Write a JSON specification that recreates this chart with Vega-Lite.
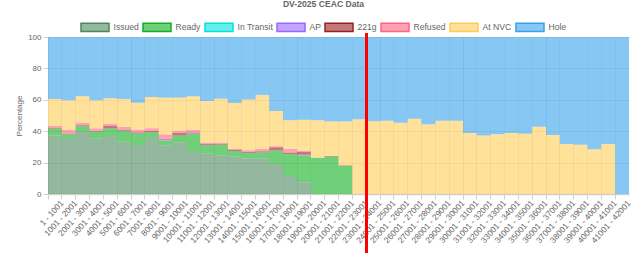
{
  "$schema": "https://vega.github.io/schema/vega-lite/v6.json",
  "width": 581,
  "height": 157,
  "autosize": "none",
  "padding": {"left": 48, "top": 37, "right": 11, "bottom": 59},
  "background": "white",
  "title": {
    "text": "DV-2025 CEAC Data",
    "font": "Liberation Sans",
    "fontSize": 8.6,
    "fontWeight": "bold",
    "color": "#666",
    "anchor": "middle",
    "offset": 3,
    "dx": -15
  },
  "config": {
    "view": {"stroke": null},
    "font": "Liberation Sans",
    "axisX": {
      "labelAngle": -48,
      "labelAlign": "right",
      "labelBaseline": "middle",
      "labelFont": "Liberation Sans",
      "labelFontSize": 8.4,
      "labelColor": "#666",
      "labelOverlap": false,
      "labelPadding": 2,
      "bandPosition": 0,
      "labelOffset": 6.9,
      "grid": true,
      "gridColor": "#000",
      "gridOpacity": 0.1,
      "tickColor": "#d0d0d0",
      "tickSize": 5,
      "domainColor": "#d0d0d0",
      "domainWidth": 1.5
    },
    "axisY": {
      "labelOverlap": false,
      "labelFont": "Liberation Sans",
      "labelFontSize": 8,
      "labelColor": "#666",
      "labelPadding": 2,
      "titleFont": "Liberation Sans",
      "titleFontSize": 8,
      "titleFontWeight": "normal",
      "titleColor": "#666",
      "titlePadding": 4,
      "grid": true,
      "gridColor": "#000",
      "gridOpacity": 0.1,
      "tickColor": "#d0d0d0",
      "tickSize": 5,
      "domainColor": "#e0e0e0"
    }
  },
  "data": {
    "values": [
      {"r": "1 - 1001", "Issued": 37.3, "Ready": 4.3, "221g": 0.4, "Refused": 1.3, "At NVC": 17.2, "Hole": 39.5},
      {"r": "1001 - 2001", "Issued": 35.0, "Ready": 3.0, "221g": 0.5, "Refused": 2.3, "At NVC": 18.9, "Hole": 40.3},
      {"r": "2001 - 3001", "Issued": 39.5, "Ready": 3.6, "221g": 0.7, "Refused": 1.6, "At NVC": 16.8, "Hole": 37.8},
      {"r": "3001 - 4001", "Issued": 35.5, "Ready": 4.2, "221g": 0.5, "Refused": 1.6, "At NVC": 17.9, "Hole": 40.3},
      {"r": "4001 - 5001", "Issued": 36.9, "Ready": 4.9, "221g": 1.5, "Refused": 1.5, "At NVC": 16.2, "Hole": 39.0},
      {"r": "5001 - 6001", "Issued": 33.3, "Ready": 7.0, "221g": 0.7, "Refused": 1.7, "At NVC": 17.8, "Hole": 39.5},
      {"r": "6001 - 7001", "Issued": 31.2, "Ready": 7.4, "221g": 0.7, "Refused": 1.7, "At NVC": 17.2, "Hole": 41.8},
      {"r": "7001 - 8001", "Issued": 35.7, "Ready": 3.6, "221g": 0.8, "Refused": 1.8, "At NVC": 19.9, "Hole": 38.2},
      {"r": "8001 - 9001", "Issued": 31.0, "Ready": 3.2, "AP": 0.4, "221g": 0.5, "Refused": 2.9, "At NVC": 23.4, "Hole": 38.6},
      {"r": "9001 - 10001", "Issued": 32.9, "Ready": 4.3, "221g": 1.8, "Refused": 1.1, "At NVC": 21.3, "Hole": 38.6},
      {"r": "10001 - 11001", "Issued": 27.4, "Ready": 10.8, "AP": 0.3, "221g": 0.7, "Refused": 1.6, "At NVC": 21.4, "Hole": 37.8},
      {"r": "11001 - 12001", "Issued": 25.9, "Ready": 5.1, "221g": 0.8, "Refused": 0.9, "At NVC": 26.5, "Hole": 40.8},
      {"r": "12001 - 13001", "Issued": 24.6, "Ready": 6.8, "221g": 0.5, "Refused": 0.8, "At NVC": 28.0, "Hole": 39.3},
      {"r": "13001 - 14001", "Issued": 23.8, "Ready": 3.6, "221g": 0.8, "Refused": 0.7, "At NVC": 29.1, "Hole": 42.0},
      {"r": "14001 - 15001", "Issued": 22.7, "Ready": 3.4, "221g": 0.6, "Refused": 1.2, "At NVC": 32.3, "Hole": 39.8},
      {"r": "15001 - 16001", "Issued": 22.7, "Ready": 3.8, "221g": 0.7, "Refused": 1.5, "At NVC": 34.4, "Hole": 36.9},
      {"r": "16001 - 17001", "Issued": 19.1, "Ready": 8.7, "221g": 2.0, "Refused": 0.6, "At NVC": 22.5, "Hole": 47.1},
      {"r": "17001 - 18001", "Issued": 11.5, "Ready": 14.0, "221g": 0.9, "Refused": 2.3, "At NVC": 18.2, "Hole": 53.1},
      {"r": "18001 - 19001", "Issued": 7.4, "Ready": 17.2, "AP": 0.4, "221g": 2.0, "Refused": 0.4, "At NVC": 19.9, "Hole": 52.7},
      {"r": "19001 - 20001", "Ready": 23.1, "At NVC": 23.8, "Hole": 53.1},
      {"r": "20001 - 21001", "Ready": 23.9, "221g": 0.3, "At NVC": 21.9, "Hole": 53.9},
      {"r": "21001 - 22001", "Ready": 17.8, "221g": 0.4, "At NVC": 27.9, "Hole": 53.9},
      {"r": "22001 - 23001", "At NVC": 47.6, "Hole": 52.4},
      {"r": "23001 - 24001", "At NVC": 46.3, "Hole": 53.7},
      {"r": "24001 - 25001", "At NVC": 46.7, "Hole": 53.3},
      {"r": "25001 - 26001", "At NVC": 45.4, "Hole": 54.6},
      {"r": "26001 - 27001", "At NVC": 48.0, "Hole": 52.0},
      {"r": "27001 - 28001", "At NVC": 44.4, "Hole": 55.6},
      {"r": "28001 - 29001", "At NVC": 46.7, "Hole": 53.3},
      {"r": "29001 - 30001", "At NVC": 46.7, "Hole": 53.3},
      {"r": "30001 - 31001", "At NVC": 38.9, "Hole": 61.1},
      {"r": "31001 - 32001", "At NVC": 37.2, "Hole": 62.8},
      {"r": "32001 - 33001", "At NVC": 38.0, "Hole": 62.0},
      {"r": "33001 - 34001", "At NVC": 38.9, "Hole": 61.1},
      {"r": "34001 - 35001", "At NVC": 38.4, "Hole": 61.6},
      {"r": "35001 - 36001", "At NVC": 42.9, "Hole": 57.1},
      {"r": "36001 - 37001", "At NVC": 37.6, "Hole": 62.4},
      {"r": "37001 - 38001", "At NVC": 31.8, "Hole": 68.2},
      {"r": "38001 - 39001", "At NVC": 31.4, "Hole": 68.6},
      {"r": "39001 - 40001", "At NVC": 28.5, "Hole": 71.5},
      {"r": "40001 - 41001", "At NVC": 31.8, "Hole": 68.2},
      {"r": "41001 - 42001", "Hole": 100.0}
    ]
  },
  "layer": [
    {
      "transform": [
        {"fold": ["Issued", "Ready", "In Transit", "AP", "221g", "Refused", "At NVC", "Hole"], "as": ["status", "pct"]},
        {"filter": "isValid(datum.pct) && datum.pct > 0"},
        {
          "lookup": "status",
          "from": {
            "data": {
              "values": [
                {"status": "Issued", "rank": 1},
                {"status": "Ready", "rank": 2},
                {"status": "In Transit", "rank": 3},
                {"status": "AP", "rank": 4},
                {"status": "221g", "rank": 5},
                {"status": "Refused", "rank": 6},
                {"status": "At NVC", "rank": 7},
                {"status": "Hole", "rank": 8}
              ]
            },
            "key": "status",
            "fields": ["rank"]
          }
        }
      ],
      "mark": {"type": "bar", "fillOpacity": 0.6, "strokeWidth": 0},
      "encoding": {
        "x": {
          "field": "r",
          "type": "nominal",
          "sort": null,
          "scale": {"paddingInner": 0, "paddingOuter": 0},
          "axis": {"title": null}
        },
        "y": {
          "field": "pct",
          "type": "quantitative",
          "stack": "zero",
          "scale": {"domain": [0, 100], "nice": false},
          "axis": {"title": "Percentage", "values": [0, 20, 40, 60, 80, 100]}
        },
        "color": {
          "field": "status",
          "type": "nominal",
          "scale": {
            "domain": ["Issued", "Ready", "In Transit", "AP", "221g", "Refused", "At NVC", "Hole"],
            "range": ["#4b895c", "#10b020", "#00e2dc", "#9966ff", "#982020", "#ff6384", "#ffcd56", "#36a2eb"]
          },
          "legend": {
            "title": null,
            "orient": "none",
            "legendX": 32,
            "legendY": -25,
            "direction": "horizontal",
            "columns": 8,
            "padding": 0,
            "symbolType": "M-1,-0.3H1V0.3H-1Z",
            "symbolSize": 784,
            "symbolStrokeWidth": 1.5,
            "labelFont": "Liberation Sans",
            "labelFontSize": 8.6,
            "labelColor": "#666",
            "labelOffset": 3.5,
            "columnPadding": 1,
            "encode": {
              "symbols": {
                "update": {
                  "fillOpacity": {"value": 0.6},
                  "stroke": {"scale": "color", "field": "value"},
                  "strokeWidth": {"value": 1.5},
                  "opacity": {"value": 1}
                }
              }
            }
          }
        },
        "order": {"field": "rank", "type": "quantitative"}
      }
    },
    {
      "mark": {"type": "rule", "color": "#ff0000", "strokeWidth": 2},
      "encoding": {
        "x": {"datum": "23001 - 24001", "bandPosition": 0, "axis": {"title": null}},
        "y": {"datum": 102.5, "axis": {"title": "Percentage", "values": [0, 20, 40, 60, 80, 100]}},
        "y2": {"datum": -38}
      }
    }
  ]
}
